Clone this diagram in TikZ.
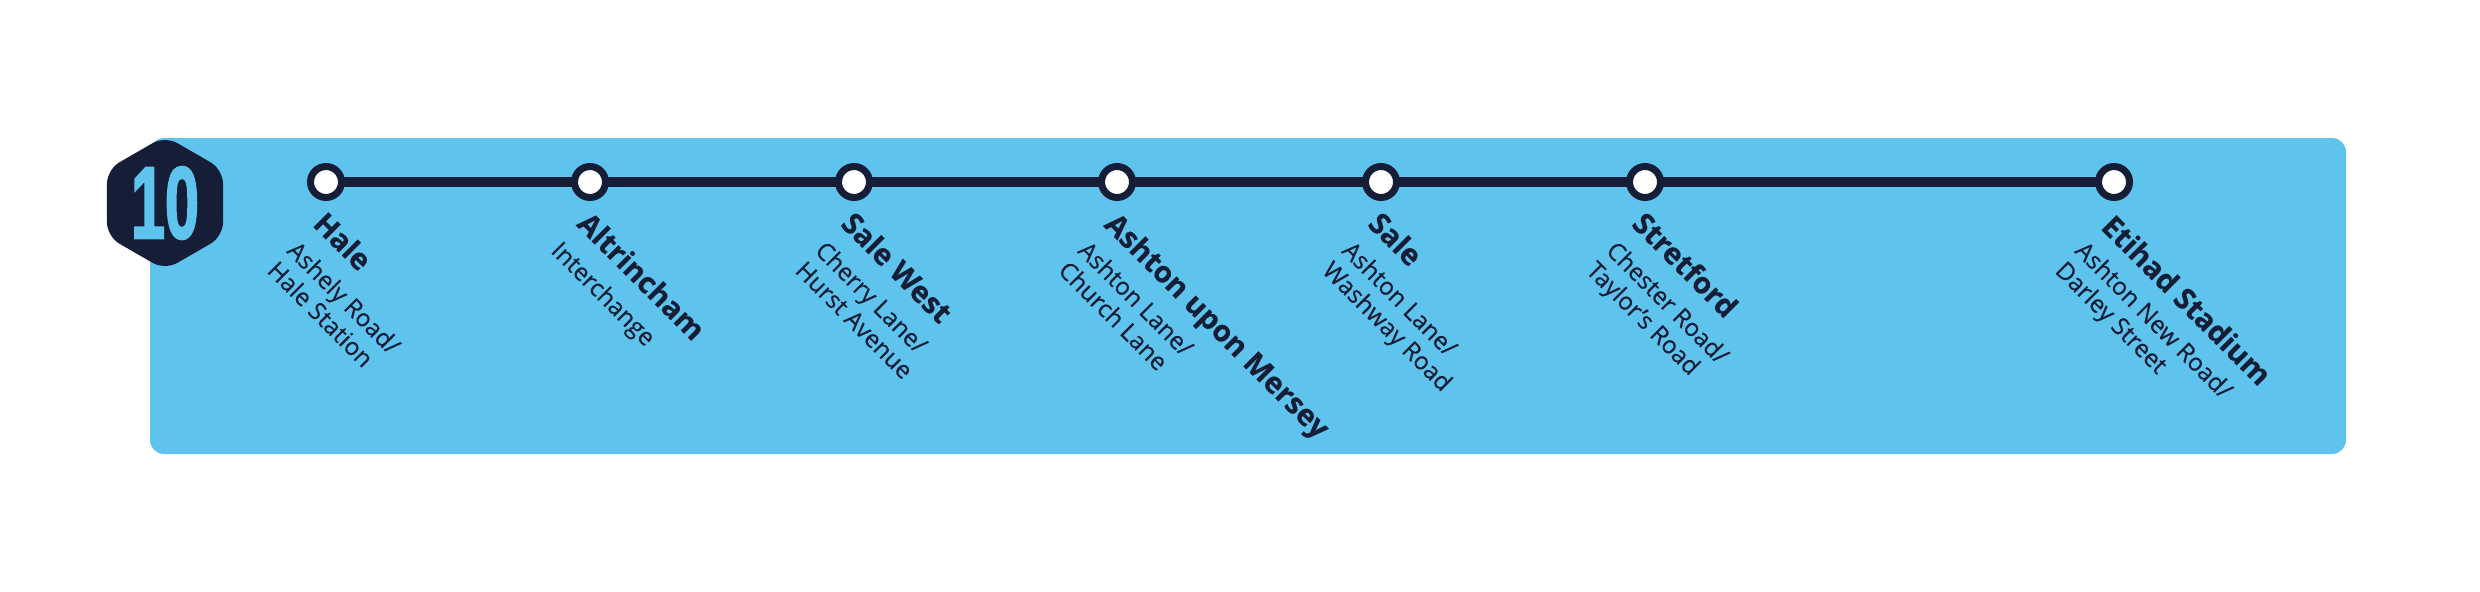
\documentclass[tikz,border=0pt]{standalone}
\usepackage{graphicx}
\usepackage{fontspec}
\setmainfont{Open Sans}[UprightFeatures={FakeBold=0.3},BoldFeatures={FakeBold=0.4}]
\newfontfamily\badgefont{Liberation Sans}[BoldFeatures={FakeBold=2.5}]
\usetikzlibrary{shapes.geometric}
\definecolor{linenavy}{HTML}{151E36}
\definecolor{lineblue}{HTML}{5EC4EE}
\tikzset{stop/.style={circle,draw=linenavy,fill=white,line width=0.07cm,minimum size=0.31cm,inner sep=0pt}}
\tikzset{track/.style={draw=linenavy,line width=0.105cm,shorten <=-1pt,shorten >=-1pt}}
\tikzset{stopname/.style={rotate=-45,anchor=west,inner sep=0pt,text=linenavy,font=\fontsize{8.4}{11}\selectfont\bfseries}}
\tikzset{stopsub/.style={rotate=-45,anchor=north west,align=left,inner sep=0pt,text=linenavy,font=\fontsize{6.9}{8}\selectfont}}
\tikzset{badge/.style={regular polygon,regular polygon sides=6,shape border rotate=30,fill=linenavy,rounded corners=0.14cm,minimum size=1.34cm,inner sep=0pt,text=lineblue,font=\badgefont\fontsize{29}{29}\selectfont\bfseries}}

\begin{document}
\begin{tikzpicture}
    \useasboundingbox (0,0) rectangle (24.8,5.91);
    \node[fill=lineblue,rounded corners=0.14cm,minimum width=21.96cm,minimum height=3.16cm,inner sep=0pt] (panel)at (12.48,2.95) {};
    \node[badge] (hex)at (1.65,3.88) {\scalebox{0.6}[1]{10}};
    \node[stop] (s1)at (3.26,4.09) {};
    \node[stop] (s2)at (5.90,4.09) {};
    \node[stop] (s3)at (8.54,4.09) {};
    \node[stop] (s4)at (11.17,4.09) {};
    \node[stop] (s5)at (13.81,4.09) {};
    \node[stop] (s6)at (16.45,4.09) {};
    \node[stop] (s7)at (21.14,4.09) {};
    \draw [track] (s1) to (s2);
    \draw [track] (s2) to (s3);
    \draw [track] (s3) to (s4);
    \draw [track] (s4) to (s5);
    \draw [track] (s5) to (s6);
    \draw [track] (s6) to (s7);
    \node[stopname] (n1)at (3.19,3.74) {Hale};
    \node[stopname] (n2)at (5.83,3.74) {Altrincham};
    \node[stopname] (n3)at (8.47,3.74) {Sale West};
    \node[stopname] (n4)at (11.08,3.71) {Ashton upon Mersey};
    \node[stopname] (n5)at (13.74,3.74) {Sale};
    \node[stopname] (n6)at (16.38,3.74) {Stretford};
    \node[stopname] (n7)at (21.07,3.71) {Etihad Stadium};
    \node[stopsub] (t1)at (2.99,3.53) {Ashely Road/\\Hale Station};
    \node[stopsub] (t2)at (5.63,3.53) {Interchange};
    \node[stopsub] (t3)at (8.27,3.53) {Cherry Lane/\\Hurst Avenue};
    \node[stopsub] (t4)at (10.90,3.53) {Ashton Lane/\\Church Lane};
    \node[stopsub] (t5)at (13.54,3.53) {Ashton Lane/\\Washway Road};
    \node[stopsub] (t6)at (16.18,3.53) {Chester Road/\\Taylor's Road};
    \node[stopsub] (t7)at (20.87,3.53) {Ashton New Road/\\Darley Street};
\end{tikzpicture}
\end{document}
